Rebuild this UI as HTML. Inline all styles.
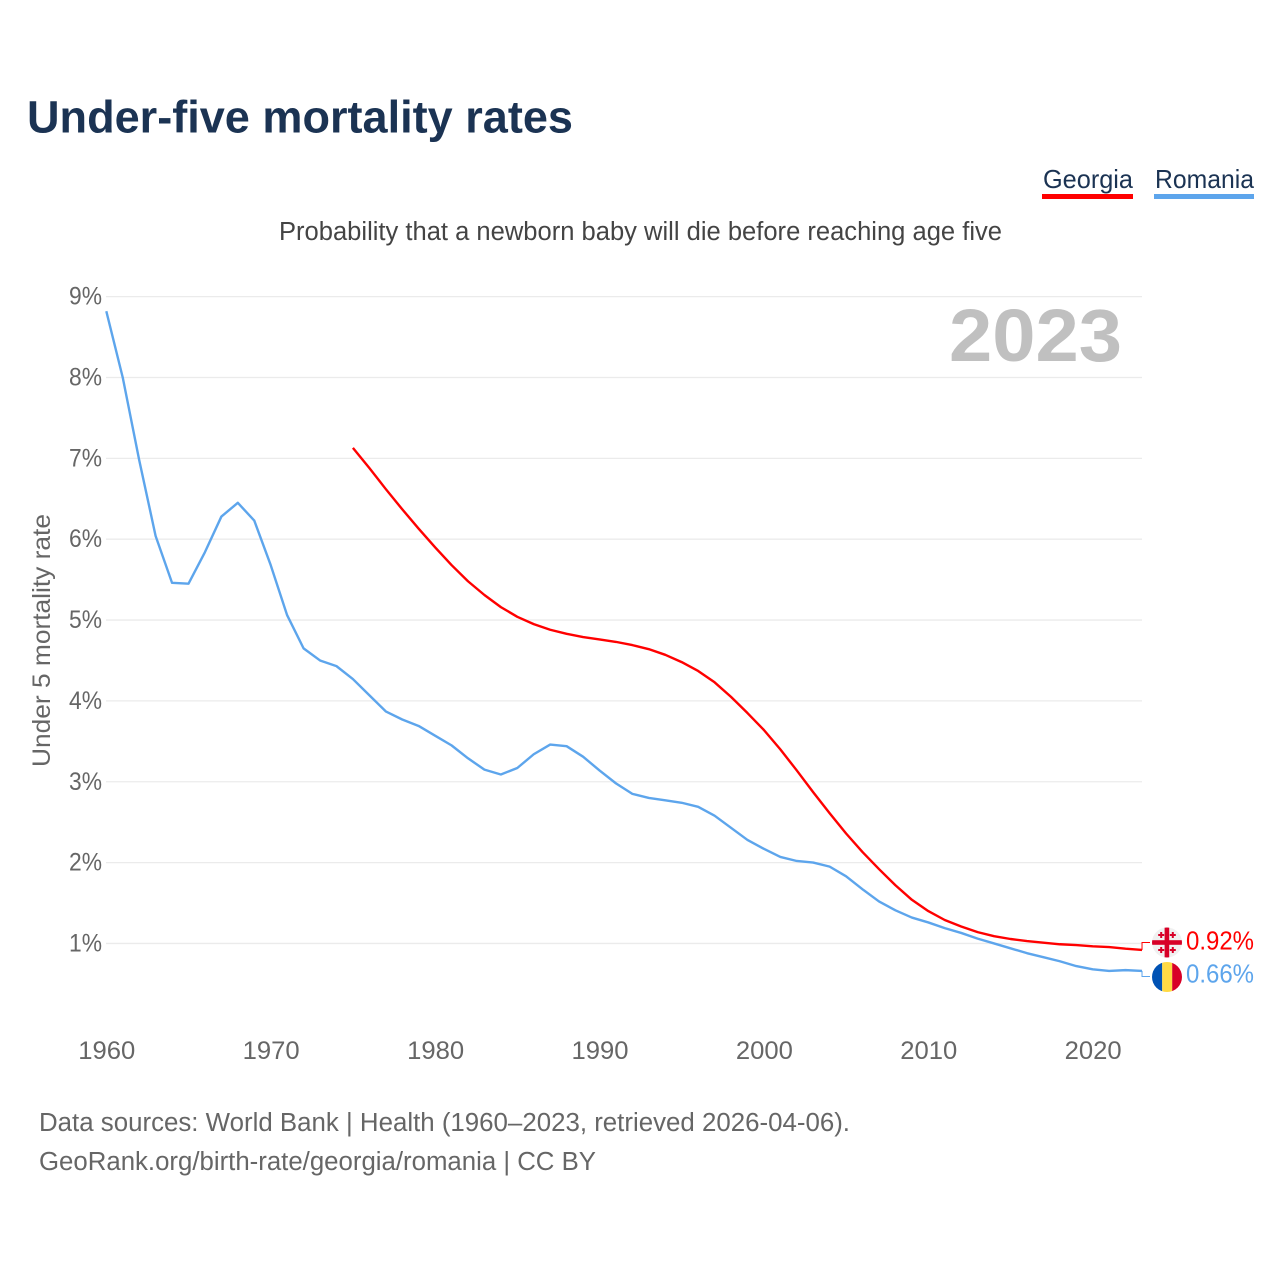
<!DOCTYPE html>
<html lang="en">
<head>
<meta charset="utf-8">
<title>Under-five mortality rates</title>
<style>
html,body{margin:0;padding:0;background:#fff}
svg{display:block}
text{font-family:"Liberation Sans",sans-serif}
</style>
</head>
<body>
<svg id="chart" xmlns="http://www.w3.org/2000/svg" width="1280" height="1280" viewBox="0 0 1280 1280">
  <rect x="0" y="0" width="1280" height="1280" fill="#fff"/>
  <text x="27" y="132.5" font-size="45" font-weight="700" fill="#1b3353" textLength="546" lengthAdjust="spacingAndGlyphs">Under-five mortality rates</text>

  <g>
    <text x="1043" y="188" font-size="26" fill="#1b3353" textLength="90" lengthAdjust="spacingAndGlyphs">Georgia</text>
    <rect x="1042" y="194" width="91" height="5" fill="#ff0000"/>
  </g>
  <g>
    <text x="1155" y="188" font-size="26" fill="#1b3353" textLength="99" lengthAdjust="spacingAndGlyphs">Romania</text>
    <rect x="1154" y="194" width="100" height="5" fill="#5da5ec"/>
  </g>

  <text x="279" y="240" font-size="25.5" fill="#444" textLength="723" lengthAdjust="spacingAndGlyphs">Probability that a newborn baby will die before reaching age five</text>

  <g id="grid"></g>
  <g id="yticks"></g>
  <g id="xticks"></g>

  <text x="949" y="361" font-size="74" font-weight="700" fill="#c0c0c0" textLength="173" lengthAdjust="spacingAndGlyphs">2023</text>

  <text transform="translate(50,767) rotate(-90)" x="0" y="0" font-size="25" fill="#666" textLength="253" lengthAdjust="spacingAndGlyphs">Under 5 mortality rate</text>

  <g id="series"></g>

  <defs>
    <clipPath id="clip-ge"><circle cx="1167" cy="942.5" r="15"/></clipPath>
    <clipPath id="clip-ro"><circle cx="1167" cy="977" r="15"/></clipPath>
  </defs>
  <g clip-path="url(#clip-ge)">
    <rect x="1152" y="927" width="30" height="31" fill="#f0f0f0"/>
    <rect x="1152" y="940.2" width="30" height="4.6" fill="#d80027"/>
    <rect x="1164.6" y="927" width="4.6" height="31" fill="#d80027"/>
    <path d="M1158.2 934h2v-2h2v2h2v2h-2v2h-2v-2h-2zM1169.8 934h2v-2h2v2h2v2h-2v2h-2v-2h-2zM1158.2 949h2v-2h2v2h2v2h-2v2h-2v-2h-2zM1169.8 949h2v-2h2v2h2v2h-2v2h-2v-2h-2z" fill="#d80027"/>
  </g>
  <g clip-path="url(#clip-ro)">
    <rect x="1152" y="962" width="10.2" height="30" fill="#0052b4"/>
    <rect x="1162.2" y="962" width="10" height="30" fill="#ffda44"/>
    <rect x="1172.2" y="962" width="9.8" height="30" fill="#d80027"/>
  </g>
  <text id="label-ge" x="1186" y="949.5" font-size="25.5" fill="#ff0000" textLength="68" lengthAdjust="spacingAndGlyphs"></text>
  <text id="label-ro" x="1186" y="982.5" font-size="25.5" fill="#5da5ec" textLength="68" lengthAdjust="spacingAndGlyphs"></text>

  <text x="39" y="1131" font-size="25.5" fill="#666" textLength="811" lengthAdjust="spacingAndGlyphs">Data sources: World Bank | Health (1960–2023, retrieved 2026-04-06).</text>
  <text x="39" y="1170" font-size="25.5" fill="#666" textLength="557" lengthAdjust="spacingAndGlyphs">GeoRank.org/birth-rate/georgia/romania | CC BY</text>
</svg>

<script>
const romaniaStartYear = 1960;
const romaniaValues = [8.82,8.00,6.98,6.04,5.46,5.45,5.84,6.28,6.45,6.23,5.68,5.06,4.65,4.50,4.43,4.27,4.07,3.87,3.77,3.69,3.57,3.45,3.29,3.15,3.09,3.17,3.34,3.46,3.44,3.31,3.14,2.98,2.85,2.80,2.77,2.74,2.69,2.58,2.43,2.28,2.17,2.07,2.02,2.00,1.95,1.83,1.67,1.52,1.41,1.32,1.26,1.19,1.13,1.06,1.00,0.94,0.88,0.83,0.78,0.72,0.68,0.66,0.67,0.66];
const georgiaStartYear = 1975;
const georgiaValues = [7.13,6.88,6.62,6.37,6.13,5.90,5.68,5.48,5.31,5.16,5.04,4.95,4.88,4.83,4.79,4.76,4.73,4.69,4.64,4.57,4.48,4.37,4.23,4.05,3.85,3.64,3.40,3.14,2.87,2.61,2.36,2.13,1.92,1.72,1.54,1.40,1.29,1.21,1.14,1.09,1.055,1.03,1.01,0.99,0.98,0.965,0.955,0.935,0.92];
const yTickValues = [1,2,3,4,5,6,7,8,9];
const xTickValues = [1960,1970,1980,1990,2000,2010,2020];

const SVG_NS = 'http://www.w3.org/2000/svg';
const xScale = function (year) { return 106.3 + (year - 1960) * 16.44; };
const yScale = function (value) { return 1024.3 - value * 80.85; };
const grid = document.getElementById('grid');
const yTicks = document.getElementById('yticks');
const xTicks = document.getElementById('xticks');
const seriesGroup = document.getElementById('series');

yTickValues.forEach(function (v) {
  const line = document.createElementNS(SVG_NS, 'line');
  
  
  line.setAttribute('x1', 106);
  line.setAttribute('x2', 1142);
  line.setAttribute('y1', yScale(v));
  line.setAttribute('y2', yScale(v));
  line.setAttribute('stroke', '#ebebeb');
  line.setAttribute('stroke-width', '1.3');
  grid.appendChild(line);

  const label = document.createElementNS(SVG_NS, 'text');
  
  
  label.setAttribute('x', 69);
  label.setAttribute('y', yScale(v) + 8);
  label.setAttribute('font-size', '25');
  label.setAttribute('fill', '#666');
  label.setAttribute('textLength', '33');
  label.setAttribute('lengthAdjust', 'spacingAndGlyphs');
  label.textContent = v + '%';
  yTicks.appendChild(label);
});

xTickValues.forEach(function (year) {
  const label = document.createElementNS(SVG_NS, 'text');
  
  
  label.setAttribute('x', xScale(year) - 28);
  label.setAttribute('y', 1059);
  label.setAttribute('font-size', '25');
  label.setAttribute('fill', '#666');
  label.setAttribute('textLength', '57');
  label.setAttribute('lengthAdjust', 'spacingAndGlyphs');
  label.textContent = year;
  xTicks.appendChild(label);
});

function linePath(startYear, values) {
  return values.map(function (v, i) {
    return (i ? 'L' : 'M') + xScale(startYear + i).toFixed(2) + ' ' + yScale(v).toFixed(2);
  }).join(' ');
}

const romaniaLine = document.createElementNS(SVG_NS, 'path');


romaniaLine.setAttribute('d', linePath(romaniaStartYear, romaniaValues));
romaniaLine.setAttribute('fill', 'none');
romaniaLine.setAttribute('stroke', '#5da5ec');
romaniaLine.setAttribute('stroke-width', '2.4');
romaniaLine.setAttribute('stroke-linejoin', 'round');
seriesGroup.appendChild(romaniaLine);

const georgiaLine = document.createElementNS(SVG_NS, 'path');


georgiaLine.setAttribute('d', linePath(georgiaStartYear, georgiaValues));
georgiaLine.setAttribute('fill', 'none');
georgiaLine.setAttribute('stroke', '#ff0000');
georgiaLine.setAttribute('stroke-width', '2.4');
georgiaLine.setAttribute('stroke-linejoin', 'round');
seriesGroup.appendChild(georgiaLine);

const georgiaEnd = georgiaValues[georgiaValues.length - 1];
const romaniaEnd = romaniaValues[romaniaValues.length - 1];

const georgiaLeader = document.createElementNS(SVG_NS, 'path');


georgiaLeader.setAttribute('d', 'M' + xScale(2023) + ' ' + yScale(georgiaEnd) + ' V942.5 H1150');
georgiaLeader.setAttribute('fill', 'none');
georgiaLeader.setAttribute('stroke', '#ff0000');
georgiaLeader.setAttribute('stroke-width', '1');
seriesGroup.appendChild(georgiaLeader);

const romaniaLeader = document.createElementNS(SVG_NS, 'path');


romaniaLeader.setAttribute('d', 'M' + xScale(2023) + ' ' + yScale(romaniaEnd) + ' V976.5 H1150');
romaniaLeader.setAttribute('fill', 'none');
romaniaLeader.setAttribute('stroke', '#5da5ec');
romaniaLeader.setAttribute('stroke-width', '1');
seriesGroup.appendChild(romaniaLeader);

document.getElementById('label-ge').textContent = georgiaEnd.toFixed(2) + '%';
document.getElementById('label-ro').textContent = romaniaEnd.toFixed(2) + '%';
</script>
</body>
</html>
